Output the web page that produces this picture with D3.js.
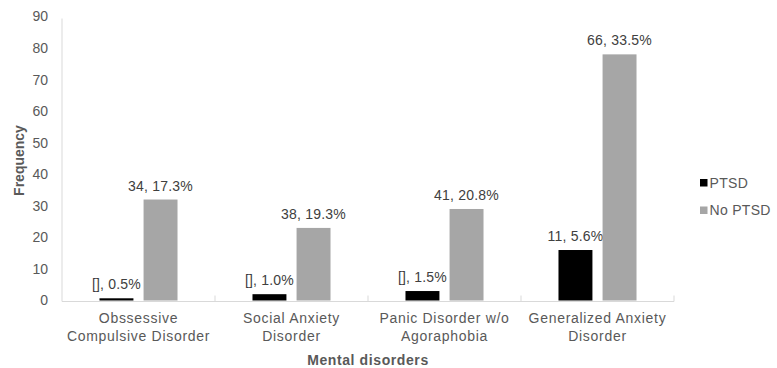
<!DOCTYPE html>
<html>
<head>
<meta charset="utf-8">
<script src="https://cdn.jsdelivr.net/npm/d3@7"></script>
<style>
  body { margin: 0; background: #fff; }
  svg text { font-family: "Liberation Sans", Arial, sans-serif; }
</style>
</head>
<body>
<svg id="chart" width="777" height="368"></svg>
<script>
// Mental disorders by PTSD status
const categories = [
  ["Obssessive", "Compulsive Disorder"],
  ["Social Anxiety", "Disorder"],
  ["Panic Disorder w/o", "Agoraphobia"],
  ["Generalized Anxiety", "Disorder"]
];
const seriesNames = ["PTSD", "No PTSD"];
const ptsdValues = [0.7, 2, 3, 16];
const noPtsdValues = [32, 23, 29, 78];
const ptsdLabels = ["[], 0.5%", "[], 1.0%", "[], 1.5%", "11, 5.6%"];
const noPtsdLabels = ["34, 17.3%", "38, 19.3%", "41, 20.8%", "66, 33.5%"];
const yTicks = [0, 10, 20, 30, 40, 50, 60, 70, 80, 90];
const colors = ["#000000", "#a6a6a6"];

const svg = d3.select("#chart");
const margin = { left: 62, right: 103, top: 16.5, bottom: 67.5 };
const W = 777, H = 368;

const x = d3.scaleBand()
  .domain(d3.range(categories.length))
  .range([margin.left, W - margin.right])
  .paddingInner(0).paddingOuter(0);

const y = d3.scaleLinear().domain([0, 90]).range([H - margin.bottom, margin.top]);

const xSub = d3.scaleBand().domain([0, 1])
  .range([x.bandwidth() * 0.245, x.bandwidth() * 0.755])
  .paddingInner(0.23);

// y axis line and labels
svg.append("line")
  .attr("x1", margin.left).attr("x2", margin.left)
  .attr("y1", y(90) + 2).attr("y2", y(0) + 1)
  .attr("stroke", "#d9d9d9").attr("stroke-width", 1);

svg.append("g").selectAll("text").data(yTicks).join("text")
  .attr("x", margin.left - 14).attr("y", d => y(d))
  .attr("dy", "0.35em").attr("text-anchor", "end")
  .attr("font-size", 14).attr("fill", "#595959")
  .text(d => d);

// x axis baseline with category dividers
svg.append("line")
  .attr("x1", margin.left).attr("x2", W - margin.right)
  .attr("y1", y(0) + 1).attr("y2", y(0) + 1)
  .attr("stroke", "#d9d9d9").attr("stroke-width", 1);

svg.append("g").selectAll("line")
  .data(d3.range(1, categories.length + 1)).join("line")
  .attr("x1", i => i < categories.length ? x(i) : x(i - 1) + x.bandwidth())
  .attr("x2", i => i < categories.length ? x(i) : x(i - 1) + x.bandwidth())
  .attr("y1", y(0) - 5).attr("y2", y(0) + 1)
  .attr("stroke", "#d9d9d9");

// bars
const series = [ptsdValues, noPtsdValues];
const labels = [ptsdLabels, noPtsdLabels];
series.forEach((vals, s) => {
  const g = svg.append("g");
  g.selectAll("rect").data(vals).join("rect")
    .attr("x", (d, i) => x(i) + xSub(s))
    .attr("width", xSub.bandwidth())
    .attr("y", d => y(d))
    .attr("height", d => y(0) - y(d))
    .attr("fill", colors[s]);
  g.selectAll("text").data(vals).join("text")
    .attr("x", (d, i) => x(i) + xSub(s) + xSub.bandwidth() / 2)
    .attr("y", d => y(d) - 9)
    .attr("text-anchor", "middle")
    .attr("font-size", 14).attr("letter-spacing", 0.2)
    .attr("fill", "#404040")
    .text((d, i) => labels[s][i]);
});

// category labels
const cat = svg.append("g").selectAll("text").data(categories).join("text")
  .attr("text-anchor", "middle")
  .attr("font-size", 14).attr("letter-spacing", 0.7)
  .attr("fill", "#595959");
cat.each(function (lines, i) {
  d3.select(this).selectAll("tspan").data(lines).join("tspan")
    .attr("x", x(i) + x.bandwidth() / 2)
    .attr("y", (d, j) => 323 + j * 17.5)
    .text(d => d);
});

// axis titles
svg.append("text")
  .attr("x", (margin.left + W - margin.right) / 2).attr("y", 365)
  .attr("text-anchor", "middle").attr("font-size", 14)
  .attr("letter-spacing", 0.6)
  .attr("font-weight", "bold").attr("fill", "#595959")
  .text("Mental disorders");

svg.append("text")
  .attr("transform", `translate(24, ${(y(0) + y(90)) / 2 + 2}) rotate(-90)`)
  .attr("text-anchor", "middle").attr("font-size", 14)
  .attr("font-weight", "bold").attr("fill", "#595959")
  .text("Frequency");

// legend
const legend = svg.append("g").selectAll("g").data(seriesNames).join("g")
  .attr("transform", (d, i) => `translate(700, ${183 + i * 27.5})`);
legend.append("rect")
  .attr("x", 0).attr("y", -4).attr("width", 7.5).attr("height", 7.5)
  .attr("fill", (d, i) => colors[i]);
legend.append("text")
  .attr("x", 9.5).attr("y", 0).attr("dy", "0.35em")
  .attr("font-size", 14).attr("letter-spacing", 0.3)
  .attr("fill", "#595959")
  .text(d => d);
</script>
</body>
</html>
